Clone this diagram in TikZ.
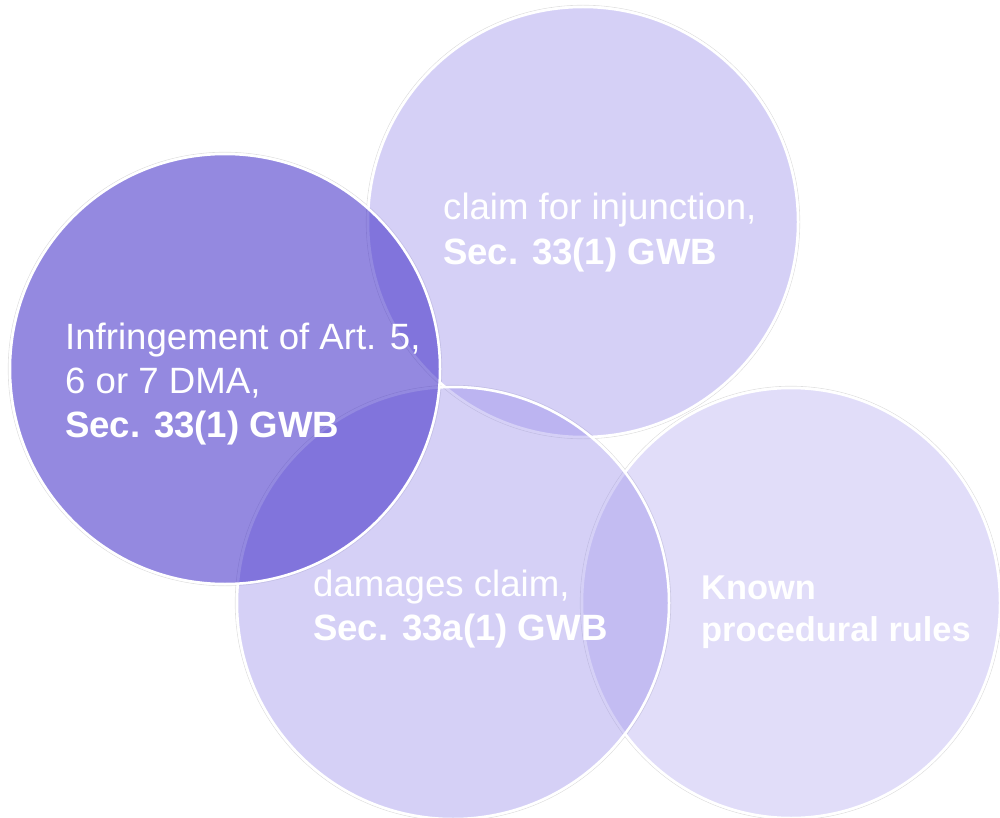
\documentclass[tikz,border=0pt]{standalone}
\usepackage{fontspec}
\setmainfont{Liberation Sans}
\definecolor{lav}{RGB}{150,138,233}
\definecolor{deep}{RGB}{64,45,200}
\begin{document}
\begin{tikzpicture}[x=1pt,y=-1pt,
  circ/.style={draw=white, line width=2.5pt},
  halo/.style={draw=black!12, line width=0.6pt},
  lbl/.style={text=white, anchor=base west, inner sep=0pt, font=\fontsize{36.6}{44}\selectfont},
  lblb/.style={lbl, font=\fontsize{36.6}{44}\selectfont\bfseries},
  lbls/.style={lbl, font=\fontsize{34.4}{42}\selectfont\bfseries}]
\useasboundingbox (0,0) rectangle (1000,818);
% faint outer halos
\draw[halo] (583,222) circle [radius=216.8pt];
\draw[halo] (791,603) ellipse [x radius=210.8pt, y radius=216.8pt];
\draw[halo] (453,603) circle [radius=217.8pt];
\draw[halo] (225,369) circle [radius=216.8pt];
% circles
\path[circ, fill=lav, fill opacity=0.4] (583,222) circle [radius=215pt];
\path[circ, fill=lav, fill opacity=0.29] (791,603) ellipse [x radius=209pt, y radius=215pt];
\path[circ, fill=lav, fill opacity=0.4] (453,603) circle [radius=216pt];
\path[circ, fill=deep, fill opacity=0.56] (225,369) circle [radius=215pt];
% texts
\node[lbl]  (t1) at (443,220) {claim for injunction,};
\node[lblb] (t2) at (443,264) {Sec. 33(1) GWB};
\node[lbl]  (d1) at (65,349) {Infringement of Art. 5,};
\node[lbl]  (d2) at (65,393) {6 or 7 DMA,};
\node[lblb] (d3) at (65,437) {Sec. 33(1) GWB};
\node[lbl]  (b1) at (313,596) {damages claim,};
\node[lblb] (b2) at (313,640) {Sec. 33a(1) GWB};
\node[lbls] (r1) at (701,599) {Known};
\node[lbls] (r2) at (701,641) {procedural rules};
\end{tikzpicture}
\end{document}
